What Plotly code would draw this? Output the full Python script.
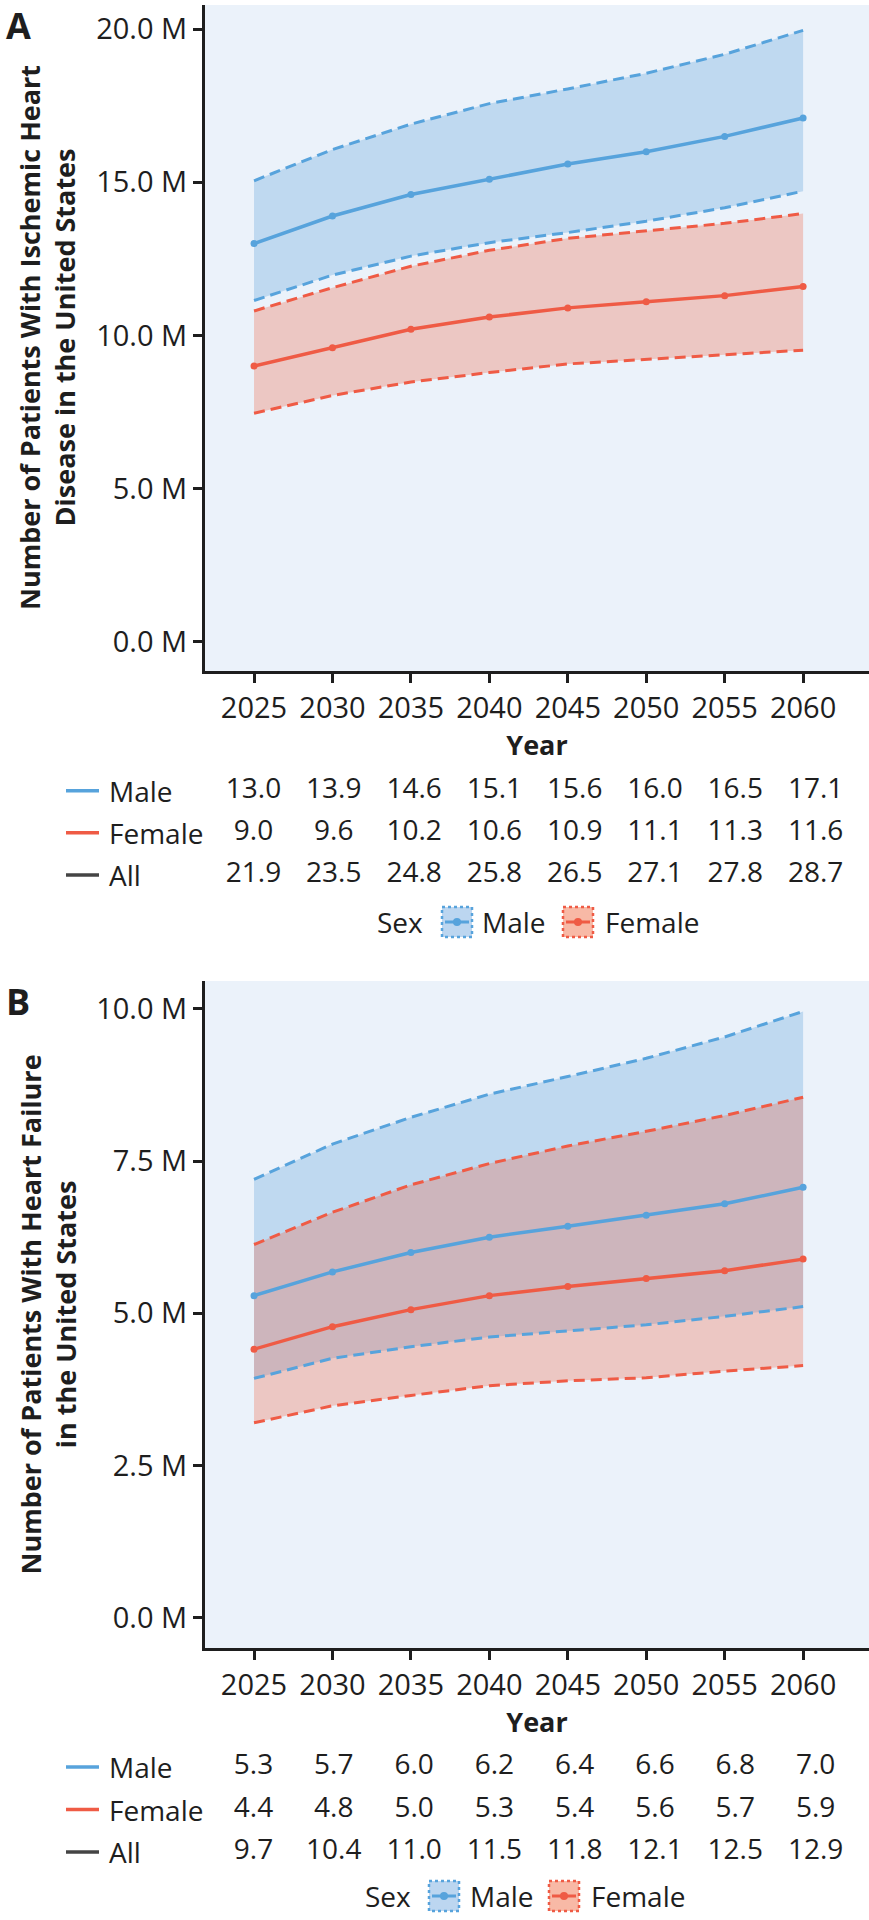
import plotly.graph_objects as go

W, H = 869, 1920

# ---------------- data ----------------
years = [2025, 2030, 2035, 2040, 2045, 2050, 2055, 2060]
year_ticks = ["2025", "2030", "2035", "2040", "2045", "2050", "2055", "2060"]

# Panel A: ischemic heart disease (millions)
ihd_male = [13.0, 13.9, 14.6, 15.1, 15.6, 16.0, 16.5, 17.1]
ihd_male_lo = [11.14, 11.97, 12.59, 13.03, 13.36, 13.73, 14.17, 14.71]
ihd_male_hi = [15.05, 16.07, 16.90, 17.57, 18.05, 18.56, 19.18, 19.96]
ihd_female = [9.0, 9.6, 10.2, 10.6, 10.9, 11.1, 11.3, 11.6]
ihd_female_lo = [7.46, 8.04, 8.48, 8.79, 9.07, 9.22, 9.36, 9.52]
ihd_female_hi = [10.80, 11.56, 12.26, 12.78, 13.17, 13.41, 13.66, 13.98]
ihd_all = [21.9, 23.5, 24.8, 25.8, 26.5, 27.1, 27.8, 28.7]

# Panel B: heart failure (millions)
hf_male = [5.29, 5.68, 6.00, 6.25, 6.43, 6.61, 6.80, 7.07]
hf_male_lo = [3.93, 4.26, 4.45, 4.61, 4.71, 4.81, 4.95, 5.11]
hf_male_hi = [7.20, 7.78, 8.22, 8.60, 8.89, 9.19, 9.54, 9.96]
hf_female = [4.41, 4.78, 5.06, 5.29, 5.44, 5.57, 5.70, 5.89]
hf_female_lo = [3.20, 3.48, 3.65, 3.81, 3.89, 3.94, 4.05, 4.14]
hf_female_hi = [6.13, 6.66, 7.11, 7.46, 7.75, 7.99, 8.25, 8.55]
hf_table_male = [5.3, 5.7, 6.0, 6.2, 6.4, 6.6, 6.8, 7.0]
hf_table_female = [4.4, 4.8, 5.0, 5.3, 5.4, 5.6, 5.7, 5.9]
hf_table_all = [9.7, 10.4, 11.0, 11.5, 11.8, 12.1, 12.5, 12.9]

rows = ["Male", "Female", "All"]

ihd_yticks = [0, 5, 10, 15, 20]
ihd_yticktext = ["0.0 M", "5.0 M", "10.0 M", "15.0 M", "20.0 M"]
hf_yticks = [0, 2.5, 5, 7.5, 10]
hf_yticktext = ["0.0 M", "2.5 M", "5.0 M", "7.5 M", "10.0 M"]

ihd_title = "Number of Patients With Ischemic Heart<br>Disease in the United States"
hf_title = "Number of Patients With Heart Failure<br>in the United States"

# ---------------- style ----------------
FONT = "Open Sans"
TXT = "#1e1e1e"
BLUE = "#57A3DC"
RED = "#EF5B45"
GREY = "#444444"
BLUE_FILL = "rgba(90,160,220,0.30)"
RED_FILL = "rgba(240,100,70,0.30)"
PANEL_BG = "#EBF2FA"
DASH = "11px,6px"


def fx(px):
    return px / W


def fy(py):
    return 1 - py / H


fig = go.Figure()


def add_panel(xa, ya, m, m_lo, m_hi, f, f_lo, f_hi):
    # ribbons (fills first)
    for lo, hi, fill in [(m_lo, m_hi, BLUE_FILL), (f_lo, f_hi, RED_FILL)]:
        fig.add_trace(go.Scatter(x=years, y=lo, mode="lines", line=dict(width=0),
                                 xaxis=xa, yaxis=ya, showlegend=False, hoverinfo="skip"))
        fig.add_trace(go.Scatter(x=years, y=hi, mode="lines", line=dict(width=0),
                                 fill="tonexty", fillcolor=fill,
                                 xaxis=xa, yaxis=ya, showlegend=False, hoverinfo="skip"))
    # dashed bounds
    for arr, col in [(m_lo, BLUE), (m_hi, BLUE), (f_lo, RED), (f_hi, RED)]:
        fig.add_trace(go.Scatter(x=years, y=arr, mode="lines",
                                 line=dict(color=col, width=3, dash=DASH),
                                 xaxis=xa, yaxis=ya, showlegend=False, hoverinfo="skip"))
    # mean lines
    for arr, col, name in [(m, BLUE, "Male"), (f, RED, "Female")]:
        fig.add_trace(go.Scatter(x=years, y=arr, mode="lines+markers", name=name,
                                 line=dict(color=col, width=3.5),
                                 marker=dict(color=col, size=7),
                                 xaxis=xa, yaxis=ya, showlegend=False))


add_panel("x", "y", ihd_male, ihd_male_lo, ihd_male_hi,
          ihd_female, ihd_female_lo, ihd_female_hi)
add_panel("x2", "y2", hf_male, hf_male_lo, hf_male_hi,
          hf_female, hf_female_lo, hf_female_hi)


def add_table(xa, ya, tm, tf, ta):
    for r, vals in zip(rows, [tm, tf, ta]):
        fig.add_trace(go.Scatter(x=years, y=[r] * len(years), mode="text",
                                 text=[f"{v:.1f}" for v in vals],
                                 textposition="middle center",
                                 textfont=dict(family=FONT, size=28, color=TXT),
                                 xaxis=xa, yaxis=ya, showlegend=False, hoverinfo="skip"))


add_table("x3", "y3", ihd_male, ihd_female, ihd_all)
add_table("x4", "y4", hf_table_male, hf_table_female, hf_table_all)

axis_common = dict(showgrid=False, zeroline=False, showline=True, linecolor=TXT,
                   linewidth=3, ticks="outside", ticklen=9, tickwidth=2.5,
                   tickcolor=TXT, tickfont=dict(family=FONT, size=29, color=TXT))

main_x_range = [2021.875, 2064.2]
table_x_range = [2009.215, 2063.325]

layout = dict(
    width=W, height=H,
    margin=dict(l=0, r=0, t=0, b=0),
    paper_bgcolor="white", plot_bgcolor="rgba(0,0,0,0)",
    font=dict(family=FONT, color=TXT),
    showlegend=False,
    xaxis=dict(domain=[fx(205), 1], range=main_x_range, anchor="y",
               tickvals=years, ticktext=year_ticks,
               title=dict(text="<b>Year</b>", font=dict(family=FONT, size=27, color=TXT), standoff=6),
               **axis_common),
    yaxis=dict(domain=[fy(671), fy(5)], range=[-0.957, 20.79], anchor="x",
               tickvals=ihd_yticks, ticktext=ihd_yticktext, **axis_common),
    xaxis2=dict(domain=[fx(205), 1], range=main_x_range, anchor="y2",
                tickvals=years, ticktext=year_ticks,
                title=dict(text="<b>Year</b>", font=dict(family=FONT, size=27, color=TXT), standoff=6),
                **axis_common),
    yaxis2=dict(domain=[fy(1648), fy(981)], range=[-0.5, 10.46], anchor="x2",
                tickvals=hf_yticks, ticktext=hf_yticktext, **axis_common),
    xaxis3=dict(domain=[0, 1], range=table_x_range, anchor="y3", visible=False),
    yaxis3=dict(domain=[fy(896), fy(769.6)], range=[2.5, -0.5], anchor="x3",
                type="category", categoryarray=rows, visible=False),
    xaxis4=dict(domain=[0, 1], range=table_x_range, anchor="y4", visible=False),
    yaxis4=dict(domain=[fy(1873.25), fy(1745.75)], range=[2.5, -0.5], anchor="x4",
                type="category", categoryarray=rows, visible=False),
)
fig.update_layout(**layout)

annotations = []
shapes = []

# panel backgrounds (only for the two chart panels)
for xr, yr in [("x domain", "y domain"), ("x2 domain", "y2 domain")]:
    shapes.append(dict(type="rect", xref=xr, yref=yr, x0=0, x1=1, y0=0, y1=1,
                       fillcolor=PANEL_BG, line=dict(width=0), layer="below"))

# panel letters and y titles
for letter, ly, title, cy in [("A", 25, ihd_title, 338), ("B", 1001, hf_title, 1314.5)]:
    annotations.append(dict(text=f"<b>{letter}</b>", x=fx(18), y=fy(ly), xref="paper", yref="paper",
                            showarrow=False, font=dict(family=FONT, size=36, color=TXT),
                            xanchor="center", yanchor="middle"))
    annotations.append(dict(text=f"<b>{title}</b>", x=fx(47), y=fy(cy), xref="paper", yref="paper",
                            showarrow=False, textangle=-90,
                            font=dict(family=FONT, size=27, color=TXT),
                            xanchor="center", yanchor="middle"))

# table row labels with colored swatches
for yref in ["y3", "y4"]:
    for r, col in zip(rows, [BLUE, RED, GREY]):
        annotations.append(dict(text=r, x=fx(107), y=r, xref="paper", yref=yref,
                                showarrow=False, xanchor="left", yanchor="middle",
                                font=dict(family=FONT, size=28, color=TXT)))
        shapes.append(dict(type="line", xref="paper", yref=yref, x0=fx(66), x1=fx(99),
                           y0=r, y1=r, line=dict(color=col, width=3.5)))

# "Sex" legends
for ly, x_sex, x_mbox, x_mtxt, x_fbox, x_ftxt in [(922, 400, 442, 480, 563, 603),
                                                  (1896, 388, 429, 468, 549, 589)]:
    annotations.append(dict(text="Sex", x=fx(x_sex), y=fy(ly), xref="paper", yref="paper",
                            showarrow=False, xanchor="center", yanchor="middle",
                            font=dict(family=FONT, size=28, color=TXT)))
    for bx, tx, col, fill, name in [(x_mbox, x_mtxt, BLUE, "#BCD6F0", "Male"),
                                    (x_fbox, x_ftxt, RED, "#F8B9A6", "Female")]:
        shapes.append(dict(type="rect", xref="paper", yref="paper",
                           x0=fx(bx), x1=fx(bx + 30), y0=fy(ly - 15), y1=fy(ly + 15),
                           fillcolor=fill, line=dict(color=col, width=2.5, dash="dot")))
        shapes.append(dict(type="line", xref="paper", yref="paper",
                           x0=fx(bx + 3), x1=fx(bx + 27), y0=fy(ly), y1=fy(ly),
                           line=dict(color=col, width=3)))
        shapes.append(dict(type="circle", xref="paper", yref="paper",
                           x0=fx(bx + 11), x1=fx(bx + 19), y0=fy(ly - 4), y1=fy(ly + 4),
                           fillcolor=col, line=dict(color=col, width=0)))
        annotations.append(dict(text=name, x=fx(tx), y=fy(ly), xref="paper", yref="paper",
                                showarrow=False, xanchor="left", yanchor="middle",
                                font=dict(family=FONT, size=28, color=TXT)))

fig.update_layout(annotations=annotations, shapes=shapes)
fig.write_html("out.html", config={"displayModeBar": False},
               post_script="document.body.style.margin='0';document.body.style.padding='0';")
